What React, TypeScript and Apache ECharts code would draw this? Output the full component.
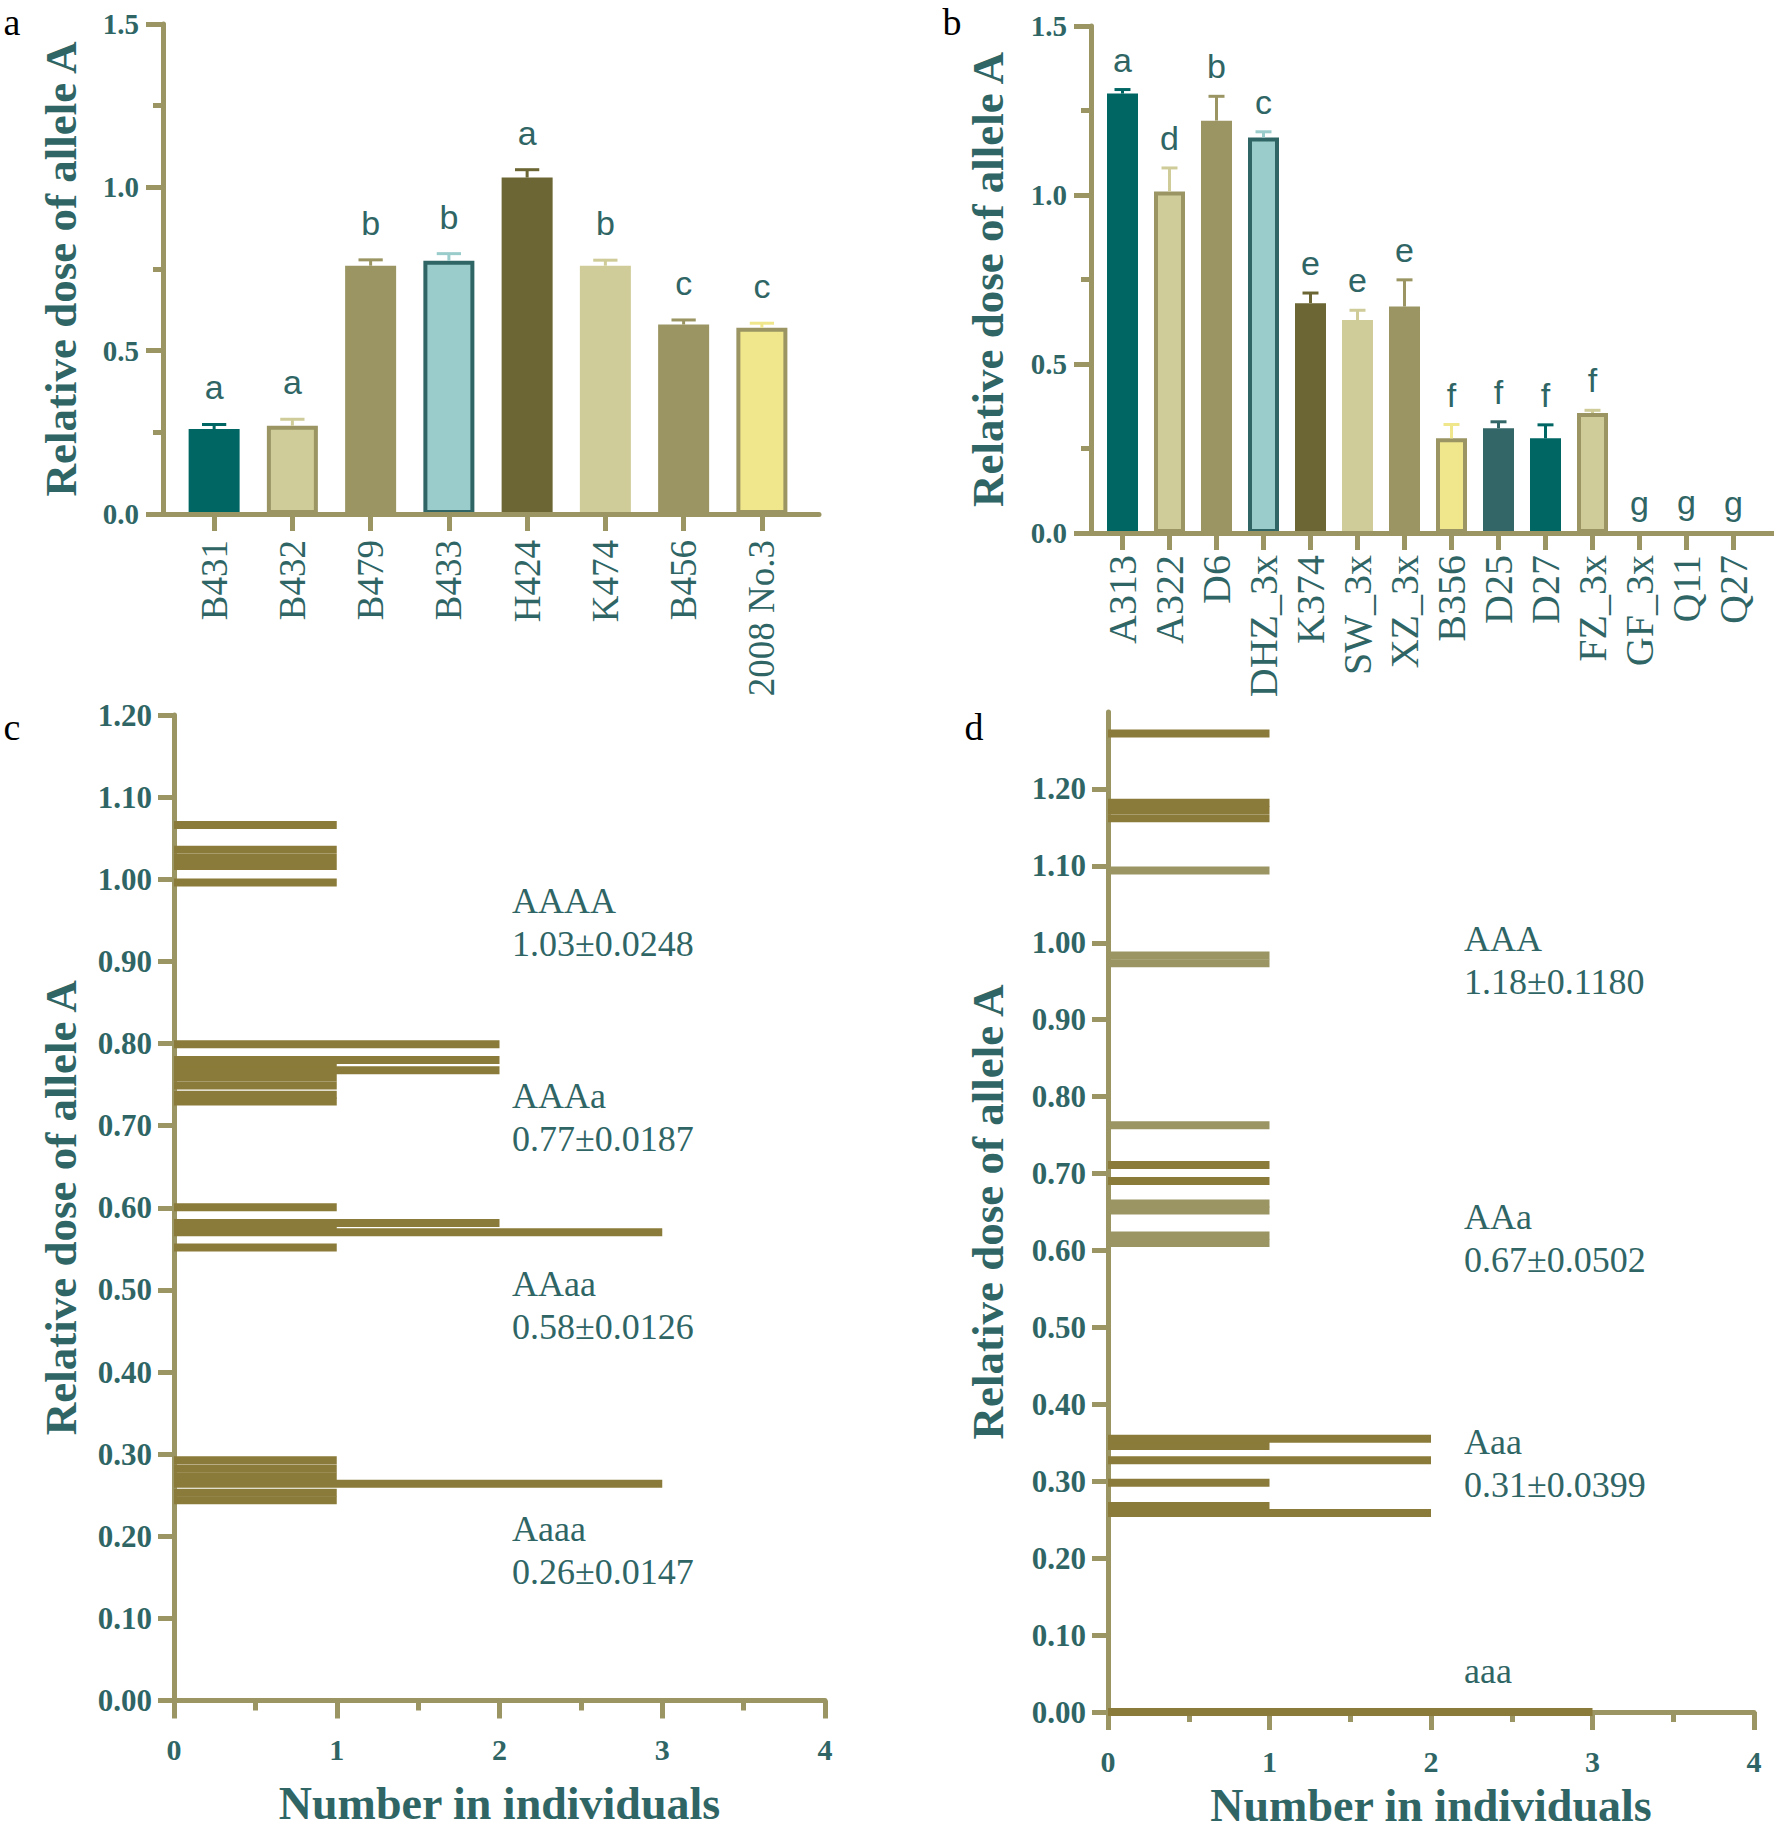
import React, { useEffect, useRef } from 'react';
import * as echarts from 'echarts';

// ---------- Panel a ----------
const catsA = ['B431', 'B432', 'B479', 'B433', 'H424', 'K474', 'B456', '2008 No.3'];
const meansA = [0.26, 0.27, 0.76, 0.775, 1.03, 0.76, 0.58, 0.57];
const errA = [0.014, 0.02, 0.018, 0.022, 0.024, 0.017, 0.014, 0.014];
const lettersA = ['a', 'a', 'b', 'b', 'a', 'b', 'c', 'c'];

// ---------- Panel b ----------
const catsB = ['A313', 'A322', 'D6', 'DHZ_3x', 'K374', 'SW_3x', 'XZ_3x', 'B356', 'D25', 'D27', 'FZ_3x', 'GF_3x', 'Q11', 'Q27'];
const meansB = [1.30, 1.01, 1.22, 1.17, 0.68, 0.63, 0.67, 0.28, 0.31, 0.28, 0.355, 0, 0.004, 0];
const errB = [0.012, 0.07, 0.072, 0.017, 0.03, 0.029, 0.079, 0.041, 0.019, 0.04, 0.008, 0, 0, 0];
const lettersB = ['a', 'd', 'b', 'c', 'e', 'e', 'e', 'f', 'f', 'f', 'f', 'g', 'g', 'g'];

// ---------- Panel c : [relative dose, number of individuals] ----------
const histC = [
  [1.066, 1], [1.036, 1], [1.026, 1], [1.016, 1], [0.996, 1],
  [0.7735, 1], [0.799, 2], [0.780, 2], [0.7675, 2], [0.7585, 1], [0.749, 1], [0.7375, 1], [0.7295, 1],
  [0.5755, 1], [0.6006, 1], [0.5814, 2], [0.5703, 3], [0.5515, 1],
  [0.2925, 1], [0.2825, 1], [0.2732, 1], [0.2639, 3], [0.2531, 1], [0.2439, 1],
];
const genoC = ['AAAA', 'AAAa', 'AAaa', 'Aaaa'];
const meanC = [1.03, 0.77, 0.58, 0.26];
const sdC = ['0.0248', '0.0187', '0.0126', '0.0147'];

// ---------- Panel d ----------
const histDdark = [
  [1.272, 1], [1.182, 1], [1.1725, 1], [1.162, 1],
  [0.711, 1], [0.6904, 1],
  [0.3459, 1], [0.3553, 2], [0.3272, 2], [0.2981, 1], [0.2679, 1], [0.2586, 2],
  [0.0, 3],
];
const histDlight = [
  [1.0938, 1], [0.9833, 1], [0.9735, 1],
  [0.7629, 1], [0.661, 1], [0.652, 1], [0.6195, 1], [0.6097, 1],
];
const genoD = ['AAA', 'AAa', 'Aaa', 'aaa'];
const meanD = ['1.18', '0.67', '0.31', ''];
const sdD = ['0.1180', '0.0502', '0.0399', ''];
const ticksD = [0, 0.1, 0.2, 0.3, 0.4, 0.5, 0.6, 0.7, 0.8, 0.9, 1.0, 1.1, 1.2];

// ---------- styles ----------
const AXIS = '#9A9563';
const LABEL = '#2F6665';
const TEAL = '#006663';
const KHAKI = '#CFCC99';
const OLIVE = '#9A9563';
const LBLUE = '#9ACCCC';
const DOLIVE = '#6B6633';
const YELLOW = '#F0E68C';
const SLATE = '#336666';
const HDARK = '#8B7B3A';
const HLIGHT = '#9A9563';
const SERIF = '"Liberation Serif", "Times New Roman", serif';
const SANS = '"Liberation Sans", Arial, sans-serif';

const fillA = [TEAL, KHAKI, OLIVE, LBLUE, DOLIVE, KHAKI, OLIVE, YELLOW];
const borderA = ['', OLIVE, '', LABEL, '', '', '', OLIVE];
const fillB = [TEAL, KHAKI, OLIVE, LBLUE, DOLIVE, KHAKI, OLIVE, YELLOW, SLATE, TEAL, KHAKI, OLIVE, LBLUE, DOLIVE];
const borderB = ['', OLIVE, '', LABEL, '', '', '', OLIVE, '', '', OLIVE, '', '', ''];

const AXW = 5;

function lineOnlyX(gridIndex: number) {
  return {
    type: 'value', gridIndex, min: 0, max: 1, z: 5,
    axisLine: { show: true, lineStyle: { color: AXIS, width: AXW } },
    axisTick: { show: false }, axisLabel: { show: false }, splitLine: { show: false },
  };
}

function barYAxis(gridIndex: number, nameGap: number) {
  return {
    type: 'value', gridIndex, min: 0, max: 1.5, interval: 0.5,
    name: 'Relative dose of allele A', nameLocation: 'middle', nameRotate: 90, nameGap,
    nameTextStyle: { fontFamily: SERIF, fontWeight: 'bold', fontSize: 45, color: LABEL },
    axisLine: { show: true, lineStyle: { color: AXIS, width: AXW } },
    axisTick: { show: true, length: 17, lineStyle: { color: AXIS, width: AXW } },
    minorTick: { show: true, splitNumber: 2, length: 10, lineStyle: { color: AXIS, width: AXW } },
    axisLabel: { margin: 24, fontFamily: SERIF, fontWeight: 'bold', fontSize: 29, color: LABEL, formatter: (v: number) => v.toFixed(1) },
    splitLine: { show: false },
  };
}

function hiddenY(gridIndex: number, max: number) {
  return { type: 'value', gridIndex, min: 0, max, show: false, splitLine: { show: false } };
}

function catX(gridIndex: number, data: string[], margin: number, fontSize: number) {
  return {
    type: 'category', gridIndex, data,
    axisLine: { show: false },
    axisTick: { show: true, alignWithLabel: true, length: 17, lineStyle: { color: AXIS, width: AXW } },
    axisLabel: { interval: 0, rotate: 90, margin, fontFamily: SERIF, fontSize, color: LABEL },
    splitLine: { show: false },
  };
}

function countX(gridIndex: number, nameGap: number) {
  return {
    type: 'value', gridIndex, min: 0, max: 4, interval: 1,
    name: 'Number in individuals', nameLocation: 'middle', nameGap,
    nameTextStyle: { fontFamily: SERIF, fontWeight: 'bold', fontSize: 46, color: LABEL },
    axisLine: { show: true, onZero: false, lineStyle: { color: AXIS, width: AXW } },
    axisTick: { show: true, length: 18, lineStyle: { color: AXIS, width: AXW } },
    minorTick: { show: true, splitNumber: 2, length: 10, lineStyle: { color: AXIS, width: AXW } },
    axisLabel: { margin: 34, fontFamily: SERIF, fontWeight: 'bold', fontSize: 30, color: LABEL },
    splitLine: { show: false },
  };
}

function doseY(gridIndex: number, max: number, nameGap: number, custom?: number[]) {
  const tick: any = { show: true, length: 16, lineStyle: { color: AXIS, width: AXW } };
  const label: any = { margin: 22, fontFamily: SERIF, fontWeight: 'bold', fontSize: 31, color: LABEL, formatter: (v: number) => v.toFixed(2) };
  if (custom) { tick.customValues = custom; label.customValues = custom; }
  return {
    type: 'value', gridIndex, min: 0, max, interval: 0.1,
    name: 'Relative dose of allele A', nameLocation: 'middle', nameRotate: 90, nameGap,
    nameTextStyle: { fontFamily: SERIF, fontWeight: 'bold', fontSize: 45, color: LABEL },
    axisLine: { show: true, lineStyle: { color: AXIS, width: AXW } },
    axisTick: tick,
    axisLabel: label,
    splitLine: { show: false },
  };
}

function errRender(fills: string[], letters: string[], capFrac: number, gap: number) {
  return (params: any, api: any) => {
    const i = api.value(0);
    const m = api.value(1);
    const e = api.value(2);
    const b = api.coord([i, m]);
    const t = api.coord([i, m + e]);
    const hw = api.size([1, 0])[0] * capFrac;
    const color = fills[i];
    const children: any[] = [];
    if (e > 0) {
      children.push({ type: 'line', shape: { x1: b[0], y1: b[1], x2: t[0], y2: t[1] }, style: { stroke: color, lineWidth: 3 } });
      children.push({ type: 'line', shape: { x1: t[0] - hw, y1: t[1], x2: t[0] + hw, y2: t[1] }, style: { stroke: color, lineWidth: 3 } });
    }
    children.push({
      type: 'text', x: t[0], y: t[1] - gap,
      style: { text: letters[i], textAlign: 'center', textVerticalAlign: 'bottom', align: 'center', verticalAlign: 'bottom', font: `34px ${SANS}`, fill: LABEL },
    });
    return { type: 'group', children };
  };
}

function histRender(color: string) {
  return (params: any, api: any) => {
    const v = api.value(0);
    const n = api.value(1);
    const p0 = api.coord([0, v]);
    const p1 = api.coord([n, v]);
    const h = 8;
    return {
      type: 'rect',
      shape: { x: p0[0], y: p0[1] - h / 2, width: p1[0] - p0[0], height: h },
      style: { fill: color },
    };
  };
}

function barData(vals: number[], fills: string[], borders: string[]) {
  return vals.map((v, i) => ({
    value: v,
    itemStyle: { color: fills[i], borderColor: borders[i] || fills[i], borderWidth: borders[i] ? 4 : 0 },
  }));
}

function textEl(text: string, x: number, y: number, font: string, fill: string, align = 'left') {
  return {
    type: 'text', x, y, z: 10,
    style: { text, textAlign: align, textVerticalAlign: 'middle', align, verticalAlign: 'middle', font, fill },
  };
}

const annoYC = [901, 1096, 1284, 1528.6];
const annoYD = [938.5, 1216.6, 1442.2, 1671.2];

export default function App() {
  const ref = useRef<HTMLDivElement>(null);
  useEffect(() => {
    if (!ref.current) return;
    const chart = echarts.init(ref.current, undefined, { renderer: 'svg' });
    const graphics: any[] = [
      textEl('a', 12, 22, `38px ${SERIF}`, '#000', 'center'),
      textEl('b', 952, 22, `38px ${SERIF}`, '#000', 'center'),
      textEl('c', 12, 727, `38px ${SERIF}`, '#000', 'center'),
      textEl('d', 974, 727, `38px ${SERIF}`, '#000', 'center'),
    ];
    const aFont = `36px ${SERIF}`;
    genoC.forEach((g, i) => {
      graphics.push(textEl(g, 512, annoYC[i], aFont, LABEL));
      graphics.push(textEl(`${meanC[i].toFixed(2)}±${sdC[i]}`, 512, annoYC[i] + 43, aFont, LABEL));
    });
    genoD.forEach((g, i) => {
      graphics.push(textEl(g, 1464, annoYD[i], aFont, LABEL));
      if (meanD[i]) graphics.push(textEl(`${meanD[i]}±${sdD[i]}`, 1464, annoYD[i] + 43, aFont, LABEL));
    });

    const option: any = {
      animation: false,
      backgroundColor: '#fff',
      grid: [
        { left: 163, top: 24, width: 656, height: 490, outerBoundsMode: 'none' },
        { left: 175, top: 24, width: 626, height: 490, outerBoundsMode: 'none' },
        { left: 1091, top: 26, width: 683, height: 507, outerBoundsMode: 'none' },
        { left: 1099, top: 26, width: 658, height: 507, outerBoundsMode: 'none' },
        { left: 174, top: 715, width: 651, height: 985.5, outerBoundsMode: 'none' },
        { left: 1108, top: 712, width: 646, height: 1000, outerBoundsMode: 'none' },
      ],
      xAxis: [
        lineOnlyX(0),
        catX(1, catsA, 26, 37),
        lineOnlyX(2),
        catX(3, catsB, 22, 40),
        countX(4, 80),
        countX(5, 70),
      ],
      yAxis: [
        barYAxis(0, 80),
        hiddenY(1, 1.5),
        barYAxis(2, 81),
        hiddenY(3, 1.5),
        doseY(4, 1.2, 91),
        doseY(5, 1.3, 98, ticksD),
      ],
      graphic: graphics,
      series: [
        { type: 'bar', xAxisIndex: 1, yAxisIndex: 1, barWidth: 51, data: barData(meansA, fillA, borderA), z: 2 },
        {
          type: 'custom', xAxisIndex: 1, yAxisIndex: 1, z: 3,
          data: meansA.map((m, i) => [i, m, errA[i]]),
          renderItem: errRender(fillA, lettersA, 0.155, 20),
        },
        { type: 'bar', xAxisIndex: 3, yAxisIndex: 3, barWidth: 31, data: barData(meansB, fillB, borderB), z: 2 },
        {
          type: 'custom', xAxisIndex: 3, yAxisIndex: 3, z: 3,
          data: meansB.map((m, i) => [i, m, errB[i]]),
          renderItem: errRender(fillB, lettersB, 0.17, 13),
        },
        {
          type: 'custom', xAxisIndex: 4, yAxisIndex: 4, z: 3, encode: { x: 1, y: 0 },
          data: histC, renderItem: histRender(HDARK),
        },
        {
          type: 'custom', xAxisIndex: 5, yAxisIndex: 5, z: 3, encode: { x: 1, y: 0 },
          data: histDlight, renderItem: histRender(HLIGHT),
        },
        {
          type: 'custom', xAxisIndex: 5, yAxisIndex: 5, z: 3, encode: { x: 1, y: 0 },
          data: histDdark, renderItem: histRender(HDARK),
        },
      ],
    };
    chart.setOption(option);
    return () => chart.dispose();
  }, []);
  return <div ref={ref} style={{ position: 'absolute', left: 0, top: 0, width: 1774, height: 1833 }} />;
}
